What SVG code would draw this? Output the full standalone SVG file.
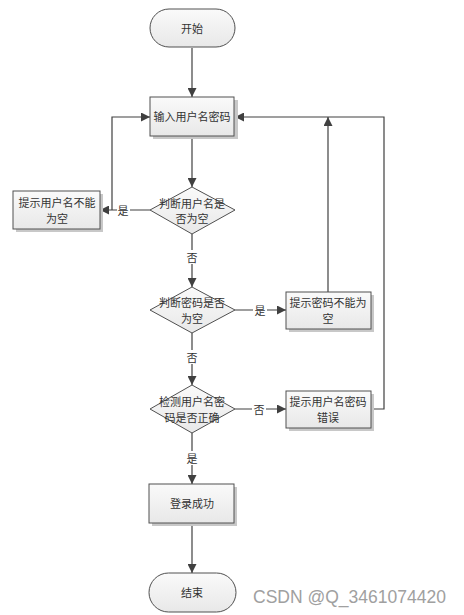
<svg xmlns="http://www.w3.org/2000/svg" width="464" height="615" viewBox="0 0 464 615">
<defs>
<linearGradient id="g" x1="0" y1="0" x2="0" y2="1"><stop offset="0" stop-color="#fafafa"/><stop offset="1" stop-color="#e8e8e8"/></linearGradient>
<marker id="ah" viewBox="0 0 10 10" refX="10" refY="5" markerWidth="9" markerHeight="9" markerUnits="userSpaceOnUse" orient="auto"><path d="M0,0 L10,5 L0,10 z" fill="#404040"/></marker>
<style>
.s{fill:url(#g);stroke:#505050;stroke-width:1}
.sh{fill:#c8c8c8;stroke:none}
.t{font-family:"Noto Sans CJK SC","Liberation Sans",sans-serif;font-size:11px;fill:#333;text-anchor:middle;dominant-baseline:central}
.c{fill:none;stroke:#404040;stroke-width:1.2}
.a{marker-end:url(#ah)}
.lb{fill:#fff}
</style>
</defs>
<rect width="464" height="615" fill="#fff"/>
<g id="connectors">
<line class="c a" x1="192" y1="48" x2="192" y2="97"/>
<line class="c a" x1="192" y1="136" x2="192" y2="187"/>
<line class="c a" x1="150" y1="210" x2="100" y2="210"/>
<polyline class="c a" points="112,210 112,117 150,117"/>
<line class="c a" x1="192" y1="234" x2="192" y2="287"/>
<line class="c a" x1="235" y1="310" x2="286" y2="310"/>
<line class="c a" x1="328" y1="292" x2="328" y2="117"/>
<line class="c a" x1="192" y1="333" x2="192" y2="385"/>
<line class="c a" x1="235" y1="409" x2="286" y2="409"/>
<polyline class="c a" points="371,409 384,409 384,117 235,117"/>
<line class="c a" x1="192" y1="433" x2="192" y2="484"/>
<line class="c a" x1="192" y1="523" x2="192" y2="573"/>
<rect class="lb" x="117" y="203" width="13" height="14"/><text class="t" x="123" y="210">是</text>
<rect class="lb" x="185" y="250" width="14" height="14"/><text class="t" x="192" y="257">否</text>
<rect class="lb" x="253" y="303" width="14" height="14"/><text class="t" x="260" y="310">是</text>
<rect class="lb" x="185" y="350" width="14" height="14"/><text class="t" x="192" y="357">否</text>
<rect class="lb" x="252" y="402" width="14" height="14"/><text class="t" x="259" y="409">否</text>
<rect class="lb" x="185" y="451" width="14" height="14"/><text class="t" x="192" y="458">是</text>
</g>
<g id="start">
<rect class="s" x="150" y="9" width="85" height="38" rx="19"/>
<text class="t" x="192" y="28">开始</text>
</g>
<g id="input">
<rect class="sh" x="153" y="100" width="85" height="39"/>
<rect class="s" x="150" y="97" width="84" height="39"/>
<text class="t" x="192" y="116">输入用户名密码</text>
</g>
<g id="d1">
<path class="s" d="M192,187 L235,210 L192,234 L150,210 z"/>
<text class="t" x="192" y="203">判断用户名是</text>
<text class="t" x="192" y="218">否为空</text>
</g>
<g id="e1">
<rect class="sh" x="16" y="194" width="87" height="38"/>
<rect class="s" x="13" y="191" width="87" height="38"/>
<text class="t" x="57" y="202">提示用户名不能</text>
<text class="t" x="57" y="218">为空</text>
</g>
<g id="d2">
<path class="s" d="M192,287 L235,310 L192,333 L150,310 z"/>
<text class="t" x="192" y="302">判断密码是否</text>
<text class="t" x="192" y="318">为空</text>
</g>
<g id="e2">
<rect class="sh" x="289" y="295" width="85" height="37"/>
<rect class="s" x="286" y="292" width="85" height="37"/>
<text class="t" x="328" y="302">提示密码不能为</text>
<text class="t" x="328" y="318">空</text>
</g>
<g id="d3">
<path class="s" d="M192,385 L235,409 L192,433 L150,409 z"/>
<text class="t" x="192" y="401">检测用户名密</text>
<text class="t" x="192" y="417">码是否正确</text>
</g>
<g id="e3">
<rect class="sh" x="289" y="394" width="85" height="37"/>
<rect class="s" x="286" y="391" width="85" height="37"/>
<text class="t" x="328" y="401">提示用户名密码</text>
<text class="t" x="328" y="417">错误</text>
</g>
<g id="success">
<rect class="sh" x="152" y="487" width="85" height="39"/>
<rect class="s" x="149" y="484" width="85" height="39"/>
<text class="t" x="192" y="503">登录成功</text>
</g>
<g id="end">
<rect class="s" x="149" y="573" width="87" height="39" rx="19.5"/>
<text class="t" x="192" y="592">结束</text>
</g>
<text x="253" y="603" font-family="Liberation Sans, sans-serif" font-size="17.5" fill="#a0a0a0">CSDN @Q_3461074420</text>
</svg>
